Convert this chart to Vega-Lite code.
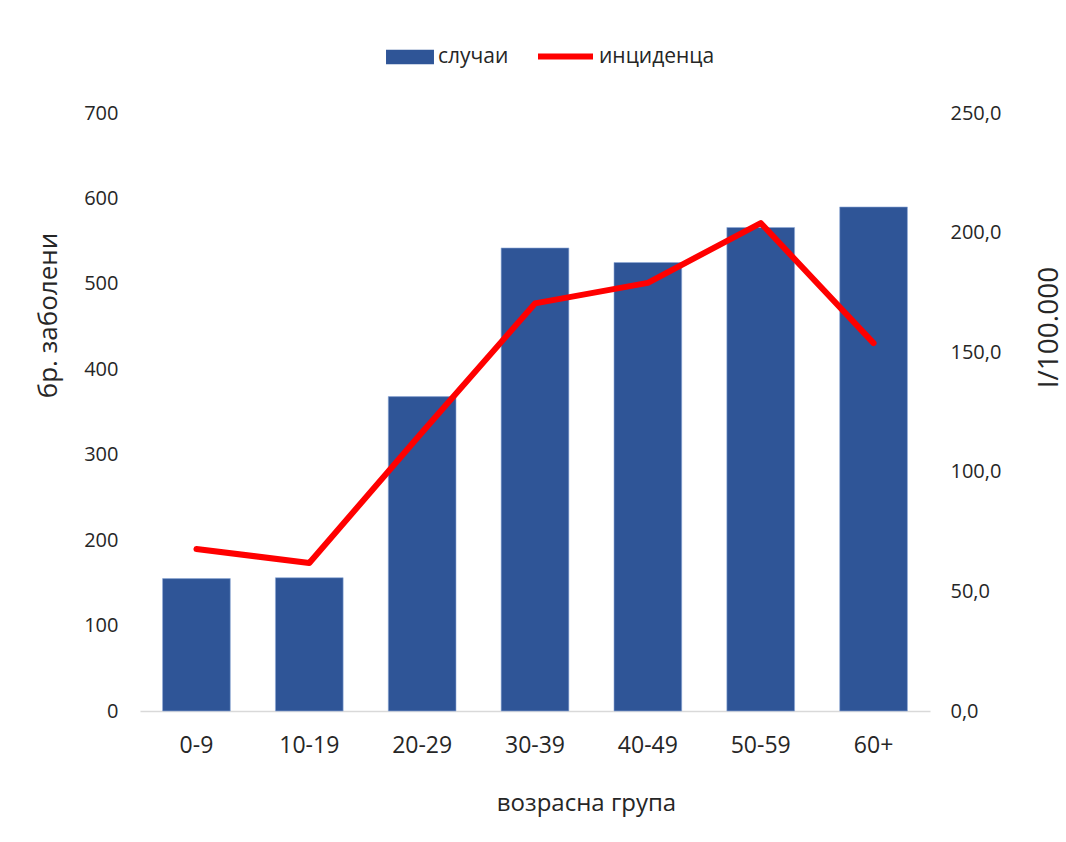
{
  "$schema": "https://vega.github.io/schema/vega-lite/v6.json",
  "width": 790,
  "height": 598,
  "autosize": {"type": "none"},
  "padding": {"left": 140, "top": 113, "right": 136, "bottom": 131},
  "background": "white",
  "config": {
    "view": {"stroke": null},
    "font": "Open Sans",
    "legend": {
      "labelFontSize": 21,
      "labelFont": "Open Sans",
      "labelColor": "#262626",
      "padding": 0
    }
  },
  "data": {
    "values": [
      {"group": "0-9", "cases": 155, "incidence": 67.7},
      {"group": "10-19", "cases": 156, "incidence": 61.9},
      {"group": "20-29", "cases": 368, "incidence": 116.5},
      {"group": "30-39", "cases": 542, "incidence": 170.4},
      {"group": "40-49", "cases": 525, "incidence": 179.0},
      {"group": "50-59", "cases": 566, "incidence": 204.0},
      {"group": "60+", "cases": 590, "incidence": 153.8}
    ]
  },
  "encoding": {
    "x": {
      "field": "group",
      "type": "nominal",
      "sort": null,
      "scale": {"paddingInner": 0.4, "paddingOuter": 0.2},
      "axis": {
        "title": "возрасна група",
        "titleFontSize": 24,
        "titleFontWeight": "normal",
        "titleColor": "#262626",
        "titleX": 446,
        "titleY": 92,
        "titleBaseline": "middle",
        "labelAngle": 0,
        "labelFontSize": 23,
        "labelColor": "#262626",
        "labelPadding": 23,
        "ticks": false,
        "domainColor": "#d9d9d9",
        "domainWidth": 1.5
      }
    }
  },
  "layer": [
    {
      "mark": {"type": "bar", "stroke": "#8fa9d6", "strokeWidth": 0.6},
      "encoding": {
        "y": {
          "field": "cases",
          "type": "quantitative",
          "scale": {"domain": [0, 700]},
          "axis": {
            "title": "бр. заболени",
            "titleFontSize": 26,
            "titleFontWeight": "normal",
            "titleColor": "#262626",
            "titleX": -92,
            "titleY": 202,
            "titleBaseline": "middle",
            "titleAngle": -90,
            "labelFontSize": 20,
            "labelColor": "#262626",
            "labelPadding": 22,
            "labelOverlap": false,
            "values": [0, 100, 200, 300, 400, 500, 600, 700],
            "ticks": false,
            "domain": false,
            "grid": false
          }
        },
        "fill": {
          "datum": "случаи",
          "type": "nominal",
          "scale": {"range": ["#2F5597"]},
          "legend": {
            "title": null,
            "orient": "none",
            "legendX": 246,
            "legendY": -80,
            "symbolType": "M-1,-0.3H1V0.3H-1Z",
            "symbolSize": 2300,
            "symbolStrokeWidth": 0,
            "labelOffset": 4
          }
        }
      }
    },
    {
      "mark": {"type": "line", "color": "#FF0000", "strokeWidth": 6, "strokeCap": "round", "strokeJoin": "round"},
      "encoding": {
        "y": {
          "field": "incidence",
          "type": "quantitative",
          "scale": {"domain": [0, 250]},
          "axis": {
            "orient": "right",
            "title": "I/100.000",
            "titleAngle": -90,
            "titleFontSize": 28,
            "titleFontWeight": "normal",
            "titleColor": "#262626",
            "titleX": 119,
            "titleY": 214,
            "titleBaseline": "middle",
            "labelFontSize": 20,
            "labelColor": "#262626",
            "labelPadding": 20,
            "labelOverlap": false,
            "values": [0, 50, 100, 150, 200, 250],
            "labelExpr": "replace(format(datum.value, '.1f'), '.', ',')",
            "ticks": false,
            "domain": false,
            "grid": false
          }
        },
        "stroke": {
          "datum": "инциденца",
          "type": "nominal",
          "scale": {"range": ["#FF0000"]},
          "legend": {
            "title": null,
            "orient": "none",
            "legendX": 395,
            "legendY": -87,
            "symbolType": "stroke",
            "symbolSize": 3025,
            "symbolStrokeWidth": 6,
            "labelOffset": 3
          }
        }
      }
    }
  ],
  "resolve": {"scale": {"y": "independent", "fill": "independent", "stroke": "independent"}}
}
